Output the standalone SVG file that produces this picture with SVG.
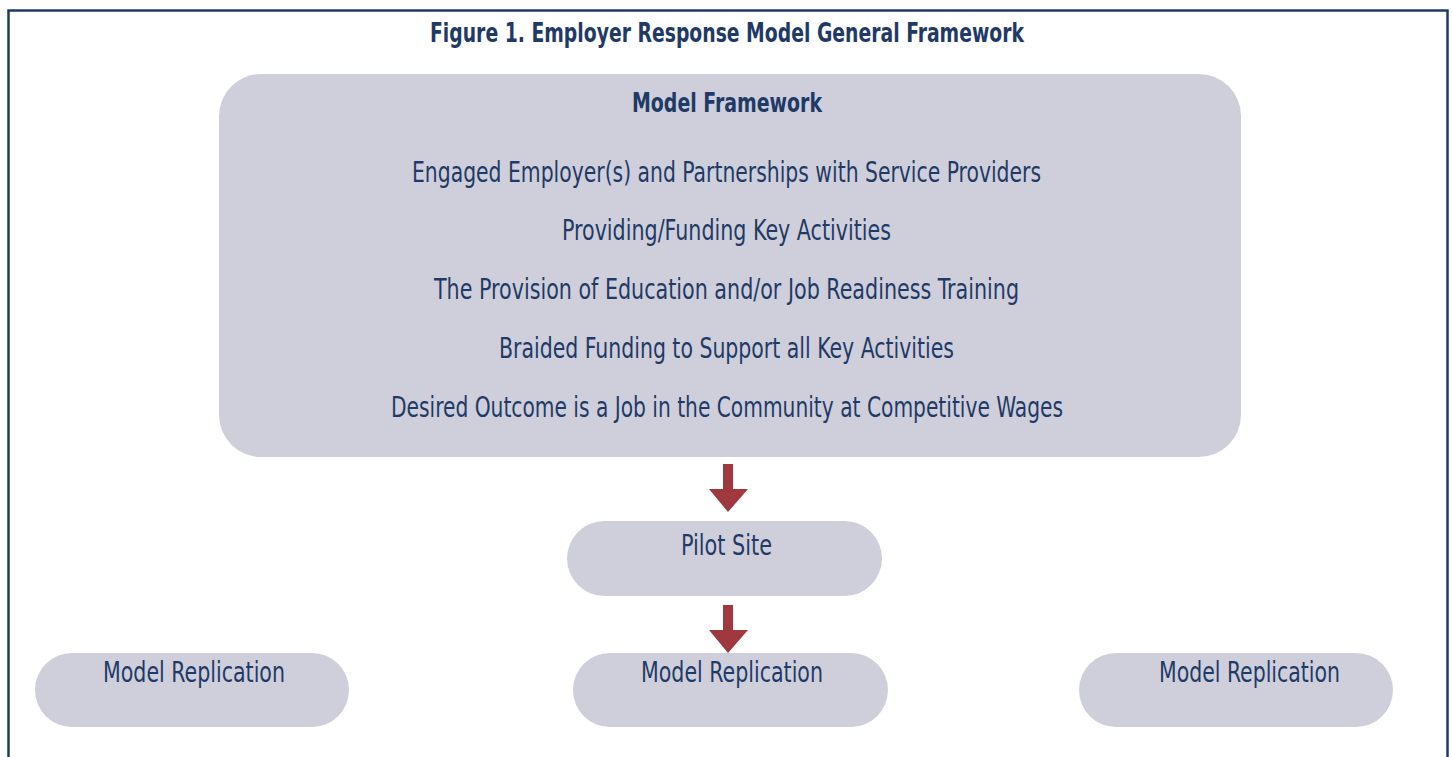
<svg xmlns="http://www.w3.org/2000/svg" width="1452" height="757" viewBox="0 0 1452 757">
<defs>
<style>
.t{font-family:"DejaVu Sans Condensed","DejaVu Sans","Liberation Sans",sans-serif;fill:#1f3a66;text-anchor:middle;font-size:27.5px}
.b{font-weight:bold;font-size:26.5px}
.n{fill:#cfcfdb}
.a{fill:#a0393f}
</style>
</defs>
<rect x="0" y="0" width="1452" height="757" fill="#fff"/>
<rect x="8.5" y="10.5" width="1439" height="800" fill="none" stroke="#1f3a66" stroke-width="2.5"/>
<text class="t b" x="727" y="42" textLength="594" lengthAdjust="spacingAndGlyphs">Figure 1. Employer Response Model General Framework</text>
<g id="framework">
<rect class="n" x="219" y="74" width="1022" height="383" rx="42" ry="42"/>
<text class="t b" x="727" y="112" textLength="190" lengthAdjust="spacingAndGlyphs">Model Framework</text>
<text class="t" x="726.5" y="182" textLength="629" lengthAdjust="spacingAndGlyphs">Engaged Employer(s) and Partnerships with Service Providers</text>
<text class="t" x="726.5" y="240" textLength="329" lengthAdjust="spacingAndGlyphs">Providing/Funding Key Activities</text>
<text class="t" x="726.5" y="299" textLength="585" lengthAdjust="spacingAndGlyphs">The Provision of Education and/or Job Readiness Training</text>
<text class="t" x="726.5" y="358" textLength="455" lengthAdjust="spacingAndGlyphs">Braided Funding to Support all Key Activities</text>
<text class="t" x="727" y="417" textLength="672" lengthAdjust="spacingAndGlyphs">Desired Outcome is a Job in the Community at Competitive Wages</text>
</g>
<g id="pilot">
<rect class="n" x="567" y="521" width="315" height="75" rx="37.5" ry="37.5"/>
<text class="t" x="726.5" y="555" textLength="91" lengthAdjust="spacingAndGlyphs">Pilot Site</text>
</g>
<g id="rep1">
<rect class="n" x="35" y="653" width="314" height="74" rx="37" ry="37"/>
<text class="t" x="194" y="682" textLength="182" lengthAdjust="spacingAndGlyphs">Model Replication</text>
</g>
<g id="rep2">
<rect class="n" x="573" y="653" width="315" height="74" rx="37" ry="37"/>
<text class="t" x="732" y="682" textLength="182" lengthAdjust="spacingAndGlyphs">Model Replication</text>
</g>
<g id="rep3">
<rect class="n" x="1079" y="653" width="314" height="74" rx="37" ry="37"/>
<text class="t" x="1249.5" y="682" textLength="181" lengthAdjust="spacingAndGlyphs">Model Replication</text>
</g>
<g id="connectors">
<polygon class="a" points="723,464 733,464 733,489 748,489 728,512 709,489 723,489"/>
<polygon class="a" points="723,605 733,605 733,630 748,630 728,653 709,630 723,630"/>
</g>
</svg>
